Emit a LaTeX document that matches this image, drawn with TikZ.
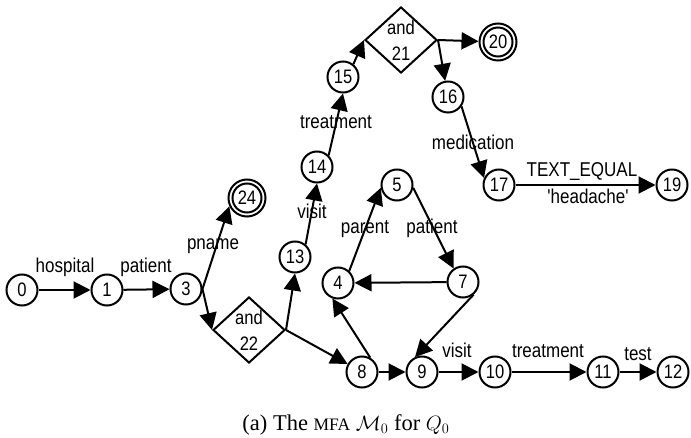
\documentclass[tikz,border=0pt]{standalone}
\usepackage{fontspec}
\setmainfont{Liberation Serif}
\newfontfamily\labfont[FakeStretch=0.85]{Liberation Sans}
\usetikzlibrary{arrows.meta,shapes.geometric}
\tikzset{
  st/.style={circle, draw, line width=2pt, minimum size=31pt, inner sep=0pt,
    font=\labfont\fontsize{19.5}{22}\selectfont},
  fin/.style={st, minimum size=37pt,
    path picture={\draw[line width=2pt] (path picture bounding box.center) circle[radius=14.5pt];}},
  dia/.style={diamond, draw, line width=2pt, minimum width=72pt, minimum height=66pt, inner sep=0pt},
  dtext/.style={align=center, font=\labfont\fontsize{19.5}{26}\selectfont},
  lbl/.style={inner sep=0pt, text height=14pt, text depth=4pt,
    font=\labfont\fontsize{20}{22}\selectfont},
  arr/.style={line width=2pt, -{Triangle[length=17pt,width=17pt]}}
}
\begin{document}
\begin{tikzpicture}[x=1pt,y=-1pt]
\useasboundingbox (0,0) rectangle (691,438);
% states
\node[st] (n0) at (22,290) {0};
\node[st] (n1) at (107,290) {1};
\node[st] (n3) at (186,289) {3};
\node[dia, label={[dtext]center:and\\22}] (d22) at (249,330) {};
\node[fin] (n24) at (247,198) {24};
\node[st] (n13) at (295,257) {13};
\node[st] (n14) at (317,167) {14};
\node[st] (n15) at (343,77) {15};
\node[dia, label={[dtext]center:and\\21}] (d21) at (401,40) {};
\node[fin] (n20) at (498,42) {20};
\node[st] (n16) at (448,97) {16};
\node[st] (n17) at (499,185) {17};
\node[st] (n19) at (672,185) {19};
\node[st] (n5) at (397,185) {5};
\node[st] (n7) at (463,282) {7};
\node[st] (n4) at (338,283) {4};
\node[st] (n8) at (362,372) {8};
\node[st] (n9) at (422,372) {9};
\node[st] (n10) at (495,372) {10};
\node[st] (n11) at (603,372) {11};
\node[st] (n12) at (673,372) {12};
% edges
\draw[arr] (n0) -- (n1);
\draw[arr] (n1) -- (n3);
\draw[arr] (n3.east) -- (n24.205);
\draw[arr] (n3.east) -- (d22.west);
\draw[arr] (d22.east) -- (n13.south);
\draw[arr] (d22.east) -- (n8);
\draw[arr] (n13.50) -- (n14.south);
\draw[arr] (n14.45) -- (n15.south);
\draw[arr] (n15.51) -- (d21.west);
\draw[arr] (d21.east) -- (n20);
\draw[arr] (d21.east) -- (n16.100);
\draw[arr] (n16.-35) -- (n17.155);
\draw[arr] (n17) -- (n19);
\draw[arr] (n4.47) -- (n5.190);
\draw[arr] (n5.-10) -- (n7.125);
\draw[arr] (n7) -- (n4);
\draw[arr] (n7.-50) -- (n9.115);
\draw[arr] (n8.60) -- (n4.250);
\draw[arr] (n8) -- (n9);
\draw[arr] (n9) -- (n10);
\draw[arr] (n10) -- (n11);
\draw[arr] (n11) -- (n12);
% labels
\node[lbl] (l01) at (65,268) {hospital};
\node[lbl] (l13) at (146,268) {patient};
\node[lbl] (l324) at (213,245) {pname};
\node[lbl] (l1314) at (312,214) {visit};
\node[lbl] (l1415) at (336,124) {treatment};
\node[lbl] (l1617) at (473,145) {medication};
\node[lbl] (l1719a) at (582,172) {TEXT\_EQUAL};
\node[lbl] (l1719b) at (588,199) {'headache'};
\node[lbl] (l45) at (365,229) {parent};
\node[lbl] (l57) at (432,229) {patient};
\node[lbl] (l910) at (457,353) {visit};
\node[lbl] (l1011) at (548,353) {treatment};
\node[lbl] (l1112) at (638,355) {test};
% caption
\node[font=\fontsize{22.5}{26}\selectfont] (cap) at (346,425)
  {(a) The {\fontsize{17.5}{18}\selectfont MFA} $\mathcal{M}_0$ for $Q_0$};
\end{tikzpicture}
\end{document}
